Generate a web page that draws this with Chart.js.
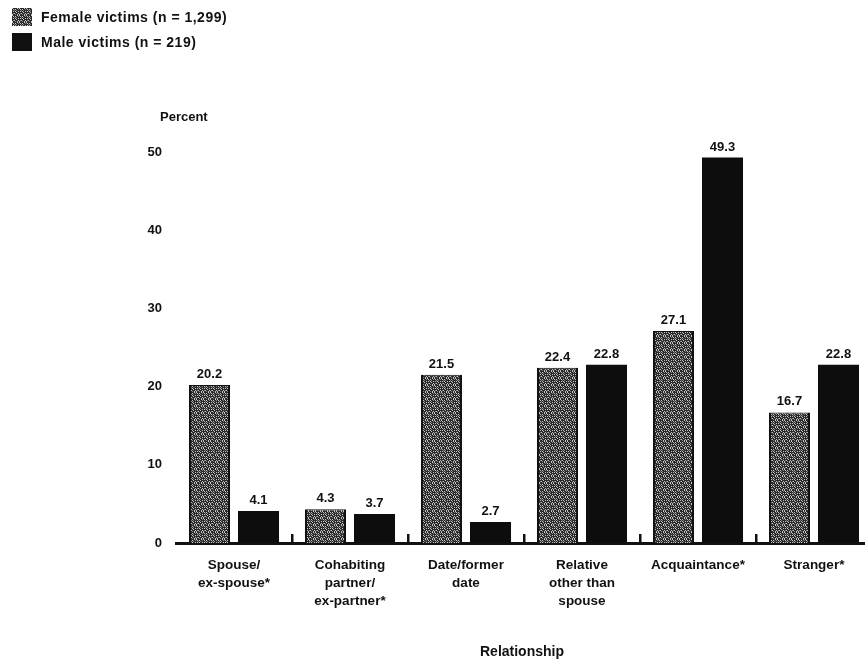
<!DOCTYPE html>
<html>
<head>
<meta charset="utf-8">
<script src="https://cdn.jsdelivr.net/npm/chart.js@4"></script>
<style>
  html, body { margin:0; padding:0; background:#fff; width:865px; height:661px; overflow:hidden; }
  #wrap { position:absolute; left:0; top:0; width:872px; height:661px; }
  .leg { position:absolute; left:12px; font-family:"Liberation Sans", Arial, sans-serif; font-size:14px; font-weight:bold; color:#111; display:flex; align-items:center; letter-spacing:0.5px; }
  .leg .box { width:20px; height:18px; margin-right:9px; }
</style>
</head>
<body>
<div id="wrap"><canvas id="c" width="872" height="661"></canvas></div>
<div class="leg" style="top:8px"><div class="box" id="fbox"></div><span>Female victims (n = 1,299)</span></div>
<div class="leg" style="top:33px"><div class="box" style="background:#111"></div><span>Male victims (n = 219)</span></div>
<script>
const categories = [
  ["Spouse/", "ex-spouse*"],
  ["Cohabiting", "partner/", "ex-partner*"],
  ["Date/former", "date"],
  ["Relative", "other than", "spouse"],
  ["Acquaintance*"],
  ["Stranger*"]
];
const femaleValues = [20.2, 4.3, 21.5, 22.4, 27.1, 16.7];
const maleValues = [4.1, 3.7, 2.7, 22.8, 49.3, 22.8];
const seriesNames = ["Female victims (n = 1,299)", "Male victims (n = 219)"];
const yTicks = [0, 10, 20, 30, 40, 50];

// speckled texture for female bars (deterministic)
function makePattern() {
  const p = document.createElement('canvas');
  p.width = 7; p.height = 7;
  const g = p.getContext('2d');
  g.fillStyle = '#2a2a2a';
  g.fillRect(0, 0, 7, 7);
  const light = [[0,0],[3,1],[5,0],[1,3],[6,3],[4,4],[2,5],[5,6],[0,6],[3,3],[6,5],[1,1]];
  g.fillStyle = '#c4c4c4';
  light.forEach(([x, y]) => g.fillRect(x, y, 1, 1));
  g.fillStyle = '#808080';
  [[2,2],[4,2],[1,5],[6,1],[3,6]].forEach(([x, y]) => g.fillRect(x, y, 1, 1));
  return p;
}
const patCanvas = makePattern();
const ctx0 = document.getElementById('c').getContext('2d');
const femalePattern = ctx0.createPattern(patCanvas, 'repeat');
document.getElementById('fbox').style.background = 'url(' + patCanvas.toDataURL() + ')';

const FONT = '"Liberation Sans", Arial, sans-serif';

const extras = {
  id: 'extras',
  afterDatasetsDraw(chart) {
    const c = chart.ctx;
    const xs = chart.scales.x, ys = chart.scales.y;
    c.save();
    // value labels
    c.font = 'bold 13px ' + FONT;
    c.fillStyle = '#111';
    c.textAlign = 'center';
    c.textBaseline = 'bottom';
    chart.data.datasets.forEach((ds, di) => {
      chart.getDatasetMeta(di).data.forEach((el, i) => {
        c.fillText(ds.data[i].toFixed(1), el.x, el.y - 4);
      });
    });
    // small separator marks between groups
    const step = xs.getPixelForValue(1) - xs.getPixelForValue(0);
    c.fillStyle = '#111';
    for (let i = 0; i < categories.length - 1; i++) {
      const x = xs.getPixelForValue(i) + step / 2;
      c.fillRect(x - 1, ys.bottom - 9, 2.5, 9);
    }
    // y axis heading
    c.font = 'bold 13px ' + FONT;
    c.textAlign = 'left';
    c.textBaseline = 'middle';
    c.fillText('Percent', 160, 117);
    // x axis title
    c.font = 'bold 14px ' + FONT;
    c.textAlign = 'center';
    c.fillText('Relationship', (xs.left + xs.right) / 2 - 2, 652);
    c.restore();
  }
};

new Chart(document.getElementById('c'), {
  type: 'bar',
  data: {
    labels: categories,
    datasets: [
      { label: seriesNames[0], data: femaleValues, backgroundColor: femalePattern, borderColor: '#111', borderWidth: {left: 2, right: 2, top: 1, bottom: 0}, categoryPercentage: 0.845, barPercentage: 0.837 },
      { label: seriesNames[1], data: maleValues, backgroundColor: '#0d0d0d', categoryPercentage: 0.845, barPercentage: 0.837 }
    ]
  },
  options: {
    responsive: false,
    animation: false,
    layout: { padding: { top: 152, right: 0, left: 0, bottom: 0 } },
    plugins: { legend: { display: false }, tooltip: { enabled: false } },
    scales: {
      x: {
        grid: { display: false },
        border: { display: true, color: '#111', width: 3 },
        ticks: { color: '#111', font: { family: FONT, size: 13.5, weight: 'bold', lineHeight: 1.3 }, padding: 6, maxRotation: 0, autoSkip: false },
        afterFit(s) { s.height = 661 - 543; }
      },
      y: {
        min: 0, max: 50,
        afterBuildTicks(s) { s.ticks = yTicks.map(v => ({ value: v })); },
        grid: { display: false },
        border: { display: false },
        ticks: { color: '#111', font: { family: FONT, size: 13, weight: 'bold' }, padding: 6 },
        afterFit(s) { s.width = 176; }
      }
    }
  },
  plugins: [extras]
});
</script>
</body>
</html>
